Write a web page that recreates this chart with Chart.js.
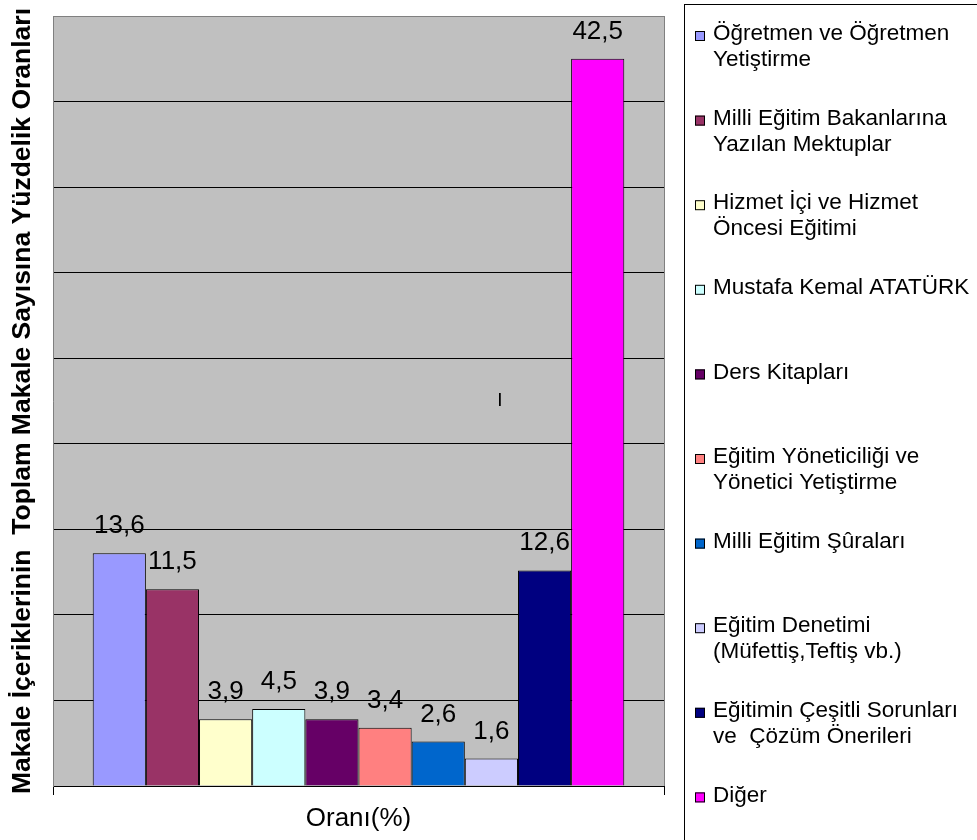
<!DOCTYPE html>
<html>
<head>
<meta charset="utf-8">
<script src="https://cdn.jsdelivr.net/npm/chart.js@4.4.0/dist/chart.umd.min.js"></script>
<style>
  body { margin: 0; background: #fff; }
  #wrap { width: 977px; height: 840px; }
</style>
</head>
<body>
<div id="wrap"><canvas id="barChart" width="977" height="840"></canvas></div>
<script>
// data
var categories = ['Oranı(%)'];
var seriesNames = [
  'Öğretmen ve Öğretmen Yetiştirme',
  'Milli Eğitim Bakanlarına Yazılan Mektuplar',
  'Hizmet İçi ve Hizmet Öncesi Eğitimi',
  'Mustafa Kemal ATATÜRK',
  'Ders Kitapları',
  'Eğitim Yöneticiliği ve Yönetici Yetiştirme',
  'Milli Eğitim Şûraları',
  'Eğitim Denetimi (Müfettiş,Teftiş vb.)',
  'Eğitimin Çeşitli Sorunları ve  Çözüm Önerileri',
  'Diğer'
];
// legend text as it is wrapped in the picture
var legendLines = [
  ['Öğretmen ve Öğretmen', 'Yetiştirme'],
  ['Milli Eğitim Bakanlarına', 'Yazılan Mektuplar'],
  ['Hizmet İçi ve Hizmet', 'Öncesi Eğitimi'],
  ['Mustafa Kemal ATATÜRK'],
  ['Ders Kitapları'],
  ['Eğitim Yöneticiliği ve', 'Yönetici Yetiştirme'],
  ['Milli Eğitim Şûraları'],
  ['Eğitim Denetimi', '(Müfettiş,Teftiş vb.)'],
  ['Eğitimin Çeşitli Sorunları', 've  Çözüm Önerileri'],
  ['Diğer']
];
var seriesValues = [13.6, 11.5, 3.9, 4.5, 3.9, 3.4, 2.6, 1.6, 12.6, 42.5];
var seriesColors = ['#9999FF', '#993366', '#FFFFCC', '#CCFFFF', '#660066',
                    '#FF8080', '#0066CC', '#CCCCFF', '#000080', '#FF00FF'];
var yTitle = 'Makale İçeriklerinin  Toplam Makale Sayısına Yüzdelik Oranları';

var FONT = 'Arial, "Liberation Sans", sans-serif';

// gray plot background + border
var plotBg = {
  id: 'plotBg',
  beforeDraw: function(chart) {
    var a = chart.chartArea, c = chart.ctx;
    c.save();
    c.fillStyle = '#C0C0C0';
    c.fillRect(a.left, a.top, a.right - a.left, a.bottom - a.top);
    c.strokeStyle = '#808080';
    c.lineWidth = 1;
    c.beginPath();
    c.moveTo(a.right + 0.5, a.top);
    c.lineTo(a.right + 0.5, a.bottom);
    c.stroke();
    c.restore();
  },
  afterDraw: function(chart) {
    // stray mark in the original plot
    var c = chart.ctx;
    c.save();
    c.fillStyle = '#000';
    c.font = '19px ' + FONT;
    c.textAlign = 'center';
    c.fillText('I', 500, 406);
    c.restore();
  }
};

// value labels above bars
var valueLabels = {
  id: 'valueLabels',
  afterDatasetsDraw: function(chart) {
    var c = chart.ctx;
    c.save();
    c.fillStyle = '#000';
    c.font = '26px ' + FONT;
    c.textAlign = 'center';
    c.textBaseline = 'alphabetic';
    chart.data.datasets.forEach(function(ds, i) {
      var bar = chart.getDatasetMeta(i).data[0];
      c.fillText(String(ds.data[0]).replace('.', ','), bar.x, bar.y - 20);
    });
    c.restore();
  }
};

// boxed legend on the right
var sideLegend = {
  id: 'sideLegend',
  afterDraw: function(chart) {
    var c = chart.ctx;
    c.save();
    c.strokeStyle = '#000';
    c.lineWidth = 1;
    c.strokeRect(684.5, 4.5, 400, 900);
    c.font = '22.5px ' + FONT;
    c.textBaseline = 'middle';
    for (var i = 0; i < legendLines.length; i++) {
      var y = 34 + i * 84.6;
      c.fillStyle = seriesColors[i];
      c.fillRect(695, y - 3, 10, 10);
      c.strokeStyle = '#000';
      c.strokeRect(695.5, y - 2.5, 9, 9);
      c.fillStyle = '#000';
      for (var j = 0; j < legendLines[i].length; j++) {
        c.fillText(legendLines[i][j], 713, y + j * 26);
      }
    }
    c.restore();
  }
};

var datasets = seriesNames.map(function(name, i) {
  return {
    label: name,
    data: [seriesValues[i]],
    backgroundColor: seriesColors[i],
    borderColor: '#000',
    borderWidth: 1
  };
});

var ctx = document.getElementById('barChart').getContext('2d');
var myChart = new Chart(ctx, {
  type: 'bar',
  data: { labels: categories, datasets: datasets },
  plugins: [plotBg, valueLabels, sideLegend],
  options: {
    responsive: false,
    animation: false,
    categoryPercentage: 0.87,
    barPercentage: 1.0,
    layout: { padding: { left: 7, right: 313, top: 16, bottom: 0 } },
    plugins: {
      legend: { display: false },
      tooltip: { enabled: false }
    },
    scales: {
      x: {
        afterFit: function(s) { s.height = 54; },
        grid: { drawOnChartArea: false, drawTicks: true, tickLength: 9, color: '#000', offset: true },
        border: { color: '#000', width: 1 },
        ticks: { color: '#000', font: { family: FONT, size: 26 }, padding: 8 }
      },
      y: {
        afterFit: function(s) { s.width = 46; },
        min: 0,
        max: 45,
        ticks: { display: false, stepSize: 5 },
        grid: {
          drawTicks: false,
          tickLength: 0,
          color: function(c) { return c.tick && c.tick.value === 45 ? '#808080' : '#000'; }
        },
        border: { color: '#808080', width: 1 },
        title: {
          display: true,
          text: yTitle,
          color: '#000',
          font: { family: FONT, size: 26.5, weight: 'bold' },
          padding: { top: 0, bottom: 14 }
        }
      }
    }
  }
});
</script>
</body>
</html>
